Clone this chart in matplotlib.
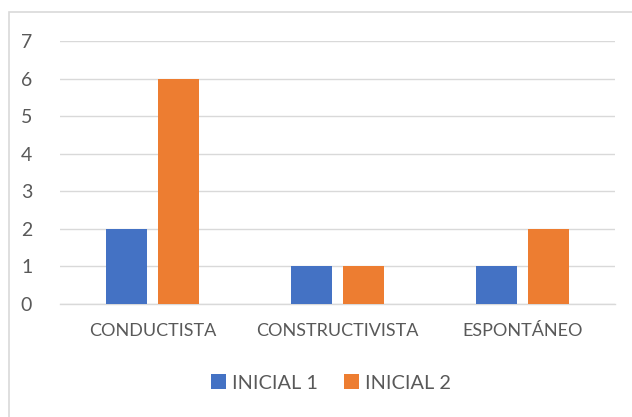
import matplotlib
matplotlib.use("Agg")
import matplotlib.pyplot as plt
from matplotlib.patches import Rectangle
import numpy as np

categories = ["CONDUCTISTA", "CONSTRUCTIVISTA", "ESPONTÁNEO"]
inicial1 = [2, 1, 1]
inicial2 = [6, 1, 2]
series_names = ["INICIAL 1", "INICIAL 2"]

plt.rcParams['font.family'] = ['Lato', 'DejaVu Sans']

W, H = 632, 417
fig = plt.figure(figsize=(W/100, H/100), dpi=100)
fig.patch.set_facecolor('white')

# outer chart border
fig.add_artist(Rectangle((8.5/W, -0.1), 1.0, 1 - 12.5/H + 0.1, transform=fig.transFigure,
                         fill=False, edgecolor='#d9d9d9', linewidth=1.2))

left, right = 60/W, 615/W
bottom, top = 1 - 304/H, 1 - 41/H
ax = fig.add_axes([left, bottom, right-left, top-bottom])

x = np.arange(len(categories))
bw = 0.222
off = 0.143
ax.bar(x - off, inicial1, width=bw, color='#4472c4', label=series_names[0], zorder=3)
ax.bar(x + off, inicial2, width=bw, color='#ed7d31', label=series_names[1], zorder=3)

ax.set_xlim(-0.5, 2.5)
ax.set_ylim(0, 7)
ax.set_yticks(range(0, 8))
ax.yaxis.grid(True, color='#d9d9d9', linewidth=1)
ax.set_axisbelow(True)
for s in ['top', 'right', 'left']:
    ax.spines[s].set_visible(False)
ax.spines['bottom'].set_color('#d9d9d9')
ax.spines['bottom'].set_linewidth(1)
ax.tick_params(axis='both', length=0, colors='#595959')
ax.tick_params(axis='y', pad=20, labelsize=14)
ax.tick_params(axis='x', pad=14, labelsize=13)
ax.set_xticks(x)
ax.set_xticklabels(categories)

leg = fig.legend(loc='center', bbox_to_anchor=(331/W, 1 - 383/H), ncol=2, frameon=False,
                 fontsize=14.3, handlelength=0.75, handleheight=0.75, handletextpad=0.3,
                 columnspacing=1.3, labelcolor='#595959')

fig.savefig('out.png', dpi=100)
